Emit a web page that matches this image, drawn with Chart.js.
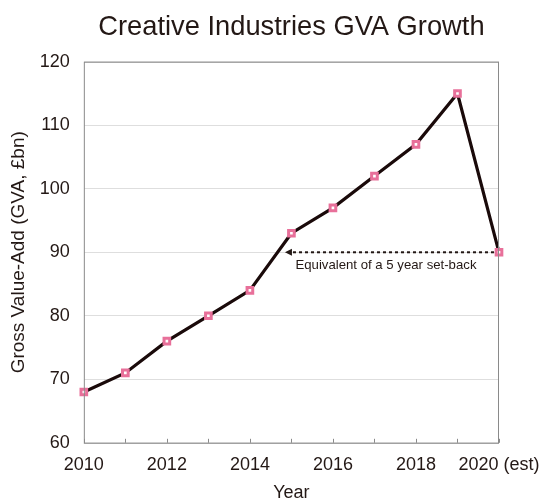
<!DOCTYPE html>
<html>
<head>
<meta charset="utf-8">
<script src="https://cdn.jsdelivr.net/npm/chart.js@4.4.1/dist/chart.umd.min.js"></script>
<style>
  html, body { margin: 0; padding: 0; background: #fff; }
  #wrap { width: 542px; height: 504px; }
</style>
</head>
<body>
<div id="wrap"><canvas id="gvaChart"></canvas></div>
<script>
// data
const years = ['2010', '2011', '2012', '2013', '2014', '2015', '2016', '2017', '2018', '2019', '2020 (est)'];
const gva = [68, 71, 76, 80, 84, 93, 97, 102, 107, 115, 90];
const yTicks = [60, 70, 80, 90, 100, 110, 120];

// dashed arrow: from the 2020 estimate back to the 2015 level
const arrowFrom = '2020 (est)';
const arrowTo = '2015';
const arrowLevel = 90;
const arrowText = 'Equivalent of a 5 year set-back';

const textColor = '#231815';
const fontFamily = '"Liberation Sans", Arial, sans-serif';

// box round the plot + little inward ticks on x + the arrow
const extras = {
    id: 'extras',
    afterDraw(chart) {
        const ctx = chart.ctx;
        const a = chart.chartArea;
        const x = chart.scales.x;
        const y = chart.scales.y;
        ctx.save();

        // frame
        ctx.strokeStyle = '#8a8a8a';
        ctx.lineWidth = 1;
        ctx.strokeRect(a.left + 0.5, a.top + 0.5, a.right - a.left - 1, a.bottom - a.top);

        // inward ticks
        years.forEach((yr, i) => {
            let px = Math.round(x.getPixelForValue(i)) + 0.5;
            ctx.beginPath();
            ctx.moveTo(px, a.bottom);
            ctx.lineTo(px, a.bottom - 4);
            ctx.stroke();
        });

        // arrow
        let x1 = x.getPixelForValue(years.indexOf(arrowFrom)) - 5;
        let x0 = x.getPixelForValue(years.indexOf(arrowTo)) - 6.5;
        let py = y.getPixelForValue(arrowLevel);
        ctx.strokeStyle = textColor;
        ctx.lineWidth = 2;
        ctx.setLineDash([3, 3]);
        ctx.beginPath();
        ctx.moveTo(x1, py);
        ctx.lineTo(x0 + 6, py);
        ctx.stroke();
        ctx.setLineDash([]);
        ctx.fillStyle = textColor;
        ctx.beginPath();
        ctx.moveTo(x0, py);
        ctx.lineTo(x0 + 7, py - 3.5);
        ctx.lineTo(x0 + 7, py + 3.5);
        ctx.closePath();
        ctx.fill();

        ctx.font = '13.2px ' + fontFamily;
        ctx.textAlign = 'left';
        ctx.textBaseline = 'middle';
        ctx.fillText(arrowText, x0 + 10.5, py + 13);
        ctx.restore();
    }
};

const cdata = {
    labels: years,
    datasets: [{
        label: 'GVA',
        data: gva,
        borderColor: '#1a0a0a',
        borderWidth: 3.2,
        pointStyle: 'rect',
        pointRadius: 4,
        pointHoverRadius: 4,
        pointBorderWidth: 3,
        pointBorderColor: '#e8709a',
        pointBackgroundColor: '#ffffff',
        tension: 0
    }]
};

const config = {
    type: 'line',
    data: cdata,
    plugins: [extras],
    options: {
        responsive: true,
        maintainAspectRatio: false,
        animation: false,
        layout: { padding: { left: 7, right: 43, top: 0, bottom: 0 } },
        plugins: {
            legend: { display: false },
            tooltip: { enabled: false },
            title: {
                display: true,
                fullSize: false,
                text: 'Creative Industries GVA Growth',
                color: textColor,
                font: { family: fontFamily, size: 27.3, weight: 'normal' },
                padding: { top: 11, bottom: 18 }
            }
        },
        scales: {
            x: {
                type: 'category',
                offset: false,
                grid: { display: true, drawOnChartArea: false, drawTicks: true, tickLength: 11, tickColor: 'rgba(0,0,0,0)', color: 'rgba(0,0,0,0)' },
                border: { display: false },
                ticks: {
                    color: textColor,
                    font: { family: fontFamily, size: 18 },
                    padding: 0,
                    autoSkip: false,
                    maxRotation: 0,
                    callback: function (val, i) {
                        return i % 2 === 0 ? years[i] : '';
                    }
                },
                title: {
                    display: true,
                    text: 'Year',
                    color: textColor,
                    font: { family: fontFamily, size: 18 },
                    padding: { top: 7, bottom: 0 }
                }
            },
            y: {
                min: yTicks[0],
                max: yTicks[yTicks.length - 1],
                afterBuildTicks: (scale) => {
                    scale.ticks = yTicks.map(v => ({ value: v }));
                },
                grid: { color: '#dedede', lineWidth: 1, drawTicks: true, tickLength: 14, tickColor: 'rgba(0,0,0,0)' },
                border: { display: false },
                ticks: {
                    color: textColor,
                    font: { family: fontFamily, size: 18 },
                    padding: 0
                },
                title: {
                    display: true,
                    text: 'Gross Value-Add (GVA, £bn)',
                    color: textColor,
                    font: { family: fontFamily, size: 19 },
                    padding: { top: 0, bottom: 10 }
                }
            }
        }
    }
};

let ctx = document.getElementById('gvaChart').getContext('2d');
var myChart = new Chart(ctx, config);
</script>
</body>
</html>
